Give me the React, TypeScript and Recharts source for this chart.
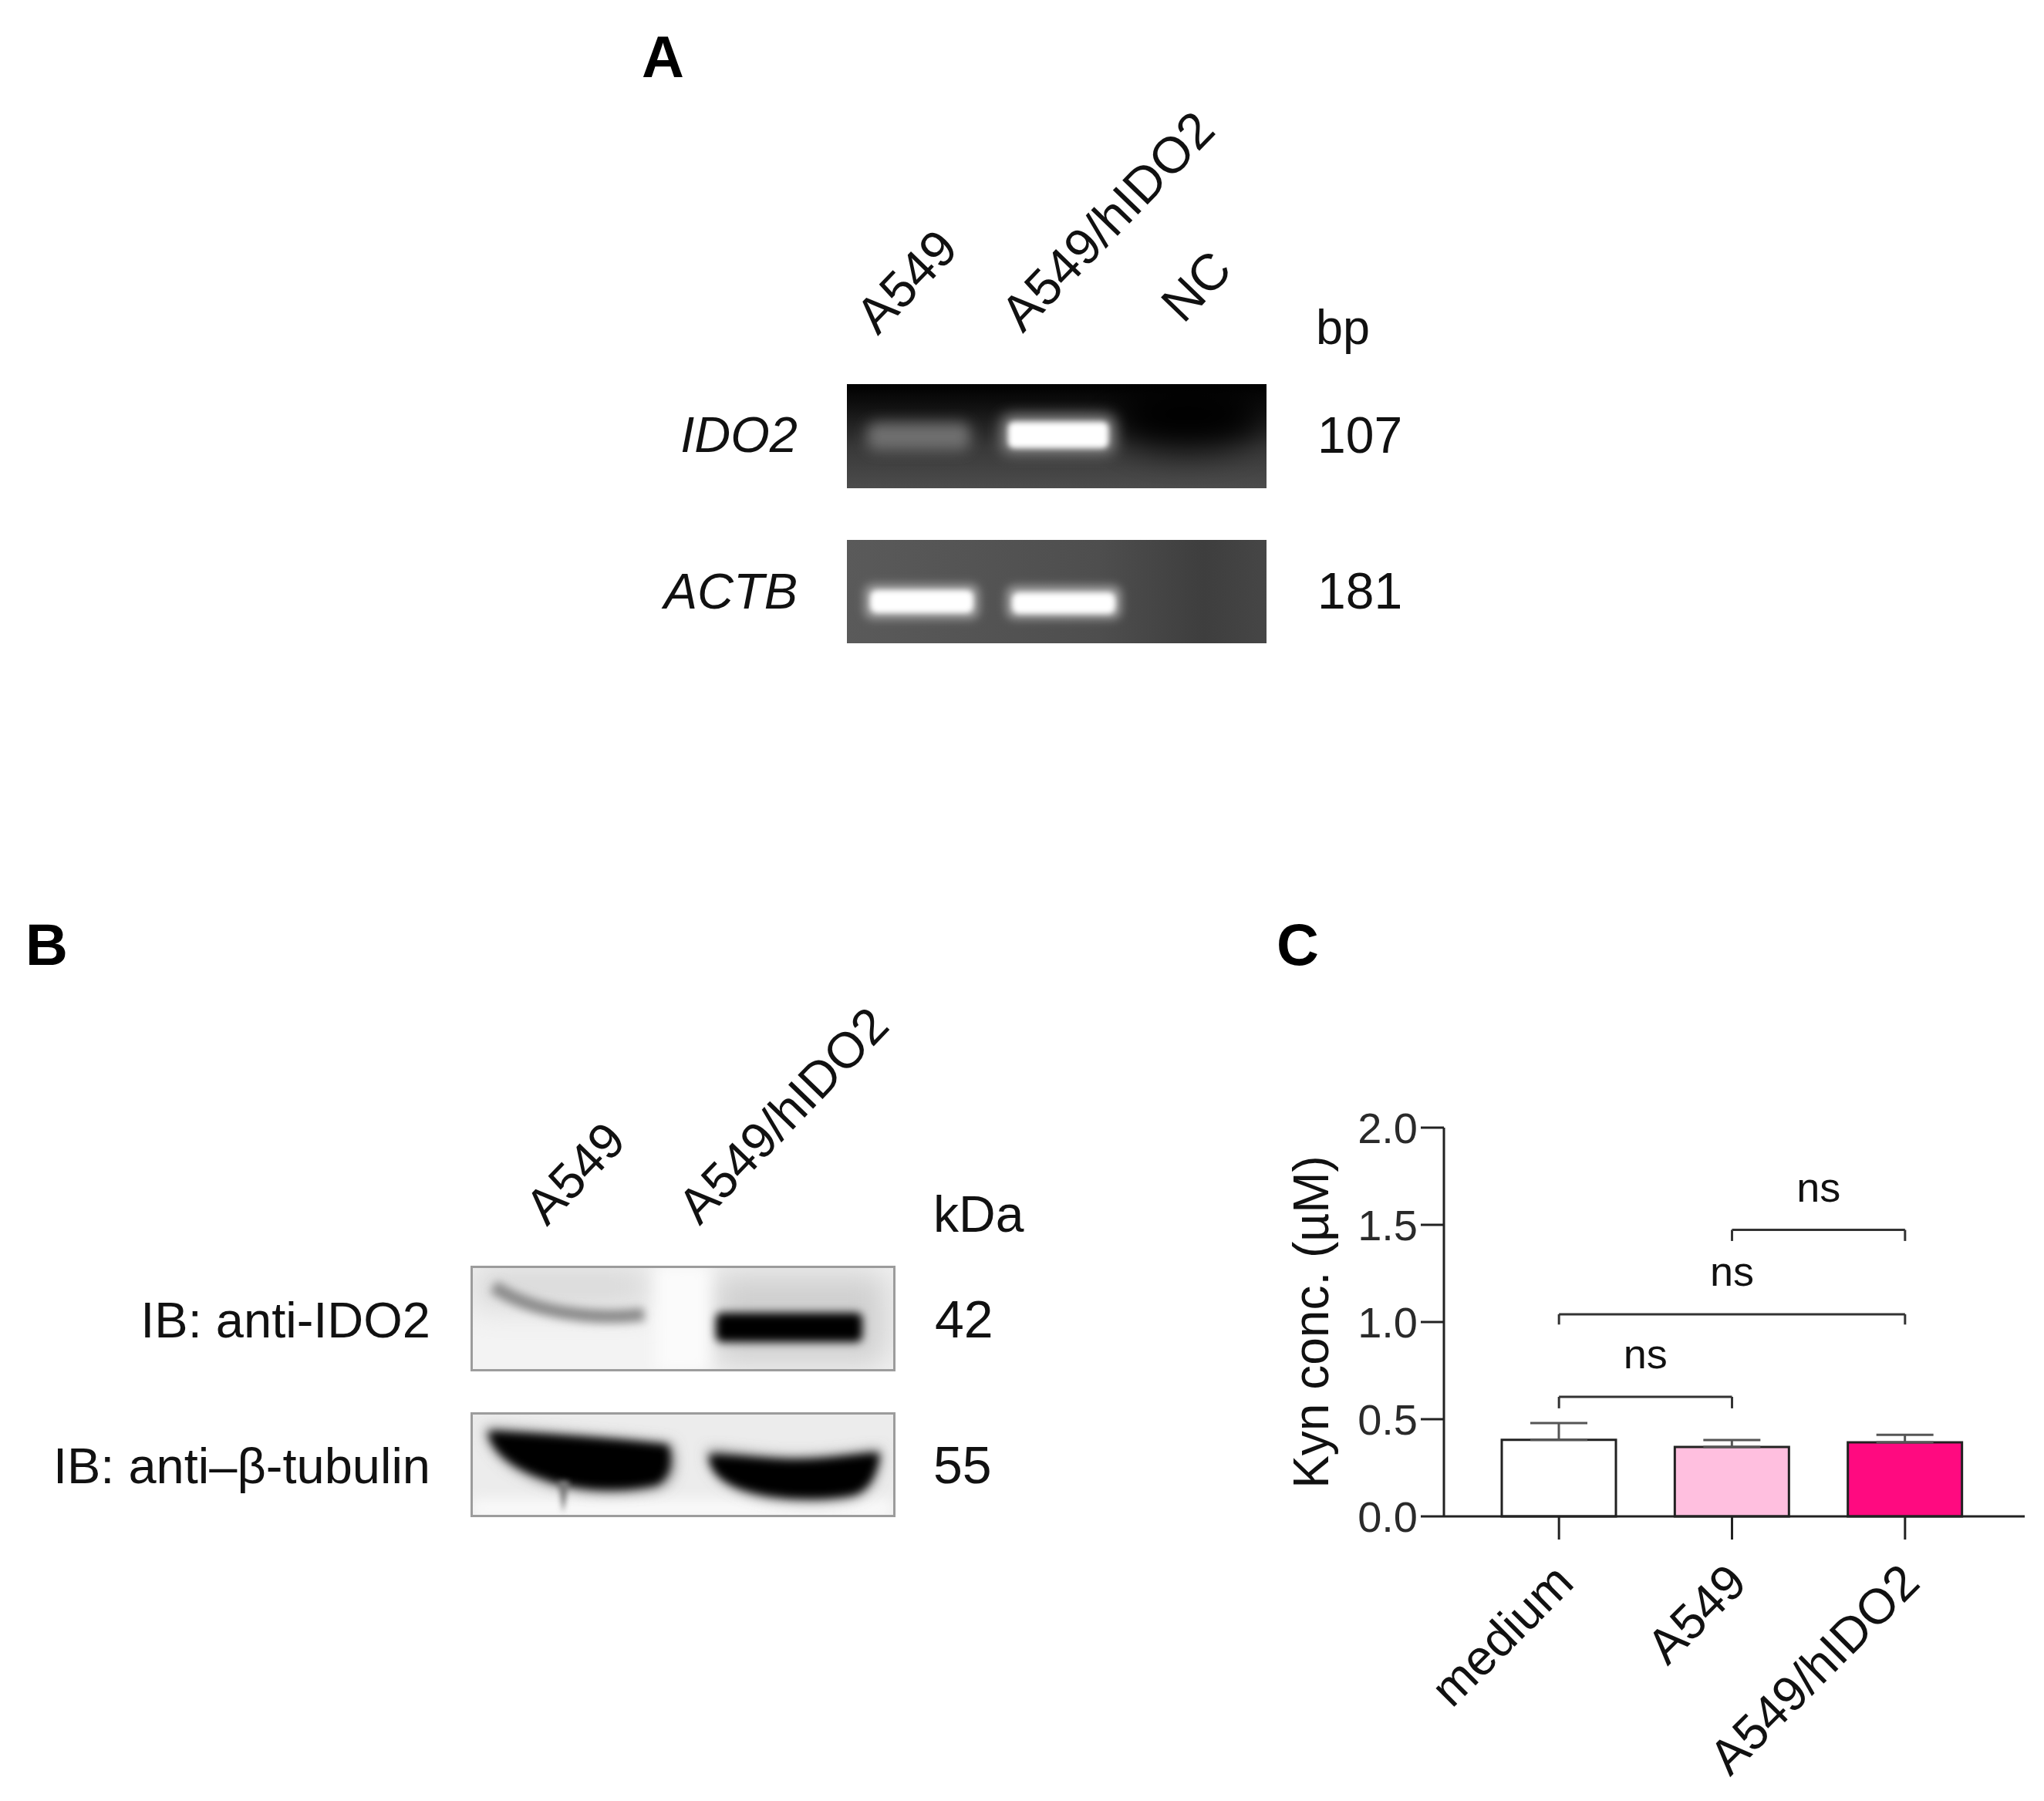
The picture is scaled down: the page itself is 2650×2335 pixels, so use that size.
import { BarChart, Bar, XAxis, YAxis, Cell, ErrorBar, ReferenceLine } from 'recharts'

const FONT = '"Liberation Sans", Arial, sans-serif'
const INK = '#111'

// panel C values
const categories = ['medium', 'A549', 'A549/hIDO2']
const kynMeans = [0.394, 0.357, 0.381]
const kynErrors = [0.086, 0.036, 0.039]
const barFills = ['#ffffff', '#ffbfdf', '#ff0a80']
const yTicks = [0, 0.5, 1, 1.5, 2]

const brackets = [
  { from: 'medium', to: 'A549', level: 0.615, leg: 0.556 },
  { from: 'medium', to: 'A549/hIDO2', level: 1.04, leg: 0.987 },
  { from: 'A549', to: 'A549/hIDO2', level: 1.474, leg: 1.417 }
]

const chartData = categories.map((category, i) => ({
  category,
  kyn: kynMeans[i],
  err: [0, kynErrors[i]]
}))

function Label({ x, y, children, anchor = 'start', size = 66, rotate, italic, bold }: any) {
  return (
    <text
      x={x}
      y={y}
      textAnchor={anchor}
      fontSize={size}
      fontFamily={FONT}
      fontStyle={italic ? 'italic' : undefined}
      fontWeight={bold ? 'bold' : undefined}
      fill={bold ? '#000' : INK}
      transform={rotate ? `rotate(${rotate} ${x} ${y})` : undefined}
    >
      {children}
    </text>
  )
}

// the gel and blot photos, as blurred shapes
function Photos() {
  return (
    <svg width={2650} height={2335} style={{ position: 'absolute', left: 0, top: 0 }}>
      <defs>
        <linearGradient id="gelTop" x1="0" y1="0" x2="0" y2="1">
          <stop offset="0" stopColor="#000" />
          <stop offset="0.22" stopColor="#111" />
          <stop offset="0.6" stopColor="#383838" />
          <stop offset="1" stopColor="#4c4c4c" />
        </linearGradient>
        <linearGradient id="gelBottom" x1="0" y1="0" x2="1" y2="0">
          <stop offset="0" stopColor="#5a5a5a" />
          <stop offset="0.6" stopColor="#4e4e4e" />
          <stop offset="0.85" stopColor="#3e3e3e" />
          <stop offset="1" stopColor="#464646" />
        </linearGradient>
        <filter id="b3" x="-30%" y="-60%" width="160%" height="220%"><feGaussianBlur stdDeviation="3.5" /></filter>
        <filter id="b5" x="-30%" y="-60%" width="160%" height="220%"><feGaussianBlur stdDeviation="6" /></filter>
        <filter id="b8" x="-30%" y="-80%" width="160%" height="260%"><feGaussianBlur stdDeviation="9" /></filter>
        <filter id="b22" x="-50%" y="-100%" width="200%" height="300%"><feGaussianBlur stdDeviation="22" /></filter>
        <clipPath id="clipA1"><rect x={1098} y={498} width={544} height={135} /></clipPath>
        <clipPath id="clipA2"><rect x={1098} y={700} width={544} height={134} /></clipPath>
        <clipPath id="clipB1"><rect x={610} y={1641} width={551} height={137} /></clipPath>
        <clipPath id="clipB2"><rect x={610} y={1831} width={551} height={136} /></clipPath>
      </defs>

      {/* panel A, IDO2 */}
      <g clipPath="url(#clipA1)">
        <rect x={1098} y={498} width={544} height={135} fill="url(#gelTop)" />
        <ellipse cx={1540} cy={540} rx={100} ry={42} fill="#000" filter="url(#b22)" />
        <rect x={1124} y={548} width={134} height={36} rx={12} fill="#707070" filter="url(#b8)" />
        <rect x={1298} y={538} width={148} height={50} rx={12} fill="#8a8a8a" filter="url(#b8)" />
        <rect x={1307} y={547} width={130} height={34} rx={8} fill="#fff" filter="url(#b3)" />
      </g>
      {/* panel A, ACTB */}
      <g clipPath="url(#clipA2)">
        <rect x={1098} y={700} width={544} height={134} fill="url(#gelBottom)" />
        <rect x={1120} y={757} width={150} height={46} rx={12} fill="#9a9a9a" filter="url(#b5)" />
        <rect x={1304} y={759} width={150} height={44} rx={12} fill="#9a9a9a" filter="url(#b5)" />
        <rect x={1128} y={765} width={134} height={30} rx={9} fill="#fff" filter="url(#b3)" />
        <rect x={1312} y={768} width={134} height={28} rx={9} fill="#fff" filter="url(#b3)" />
      </g>

      {/* panel B, anti-IDO2 */}
      <g clipPath="url(#clipB1)">
        <rect x={610} y={1641} width={551} height={137} fill="#f3f3f3" />
        <rect x={612} y={1643} width={230} height={50} fill="#d6d6d6" filter="url(#b22)" />
        <rect x={925} y={1650} width={225} height={120} fill="#cfcfcf" filter="url(#b22)" />
        <rect x={850} y={1641} width={70} height={137} fill="#fbfbfb" filter="url(#b8)" />
        <path d="M640 1668 C 690 1702 770 1712 835 1704" stroke="#8a8a8a" strokeWidth={17} fill="none" filter="url(#b5)" />
        <rect x={928} y={1702} width={190} height={38} rx={8} fill="#050505" filter="url(#b5)" />
      </g>
      <rect x={611.5} y={1642.5} width={548} height={134} fill="none" stroke="#9c9c9c" strokeWidth={3} />

      {/* panel B, anti-tubulin */}
      <g clipPath="url(#clipB2)">
        <rect x={610} y={1831} width={551} height={136} fill="#ececec" />
        <rect x={612} y={1945} width={546} height={22} fill="#fbfbfb" filter="url(#b8)" />
        <path d="M630 1852 C 680 1856 800 1864 870 1872 C 878 1900 874 1920 856 1928 C 810 1938 760 1936 722 1926 C 680 1914 636 1892 630 1852 Z" fill="#777" filter="url(#b8)" />
        <path d="M633 1856 C 680 1858 800 1866 866 1874 C 872 1900 866 1915 852 1924 C 810 1934 760 1932 722 1922 C 680 1910 640 1890 633 1856 Z" fill="#020202" filter="url(#b5)" />
        <path d="M724 1920 L 730 1962 L 738 1920 Z" fill="#777" filter="url(#b3)" />
        <path d="M918 1880 C 960 1884 1000 1890 1030 1890 C 1070 1890 1110 1884 1142 1880 C 1140 1910 1130 1932 1110 1940 C 1080 1948 1020 1948 985 1940 C 945 1930 918 1912 918 1880 Z" fill="#777" filter="url(#b8)" />
        <path d="M920 1886 C 960 1888 1000 1893 1030 1893 C 1070 1893 1110 1886 1140 1884 C 1136 1910 1128 1928 1110 1936 C 1080 1944 1020 1944 985 1936 C 945 1928 920 1912 920 1886 Z" fill="#060606" filter="url(#b5)" />
      </g>
      <rect x={611.5} y={1832.5} width={548} height={133} fill="none" stroke="#9c9c9c" strokeWidth={3} />

      {/* panel letters */}
      <Label x={832} y={100} size={76} bold>A</Label>
      <Label x={33} y={1251} size={76} bold>B</Label>
      <Label x={1655} y={1251} size={76} bold>C</Label>

      {/* panel A text */}
      <Label x={1138} y={436} size={66} rotate={-46}>A549</Label>
      <Label x={1326} y={433} size={66} rotate={-46}>A549/hIDO2</Label>
      <Label x={1534} y={421} size={66} rotate={-46}>NC</Label>
      <Label x={1706} y={446} size={63}>bp</Label>
      <Label x={1034} y={586} anchor="end" size={65} italic>IDO2</Label>
      <Label x={1034} y={789} anchor="end" size={65} italic>ACTB</Label>
      <Label x={1708} y={587} size={66}>107</Label>
      <Label x={1708} y={789} size={66}>181</Label>

      {/* panel B text */}
      <Label x={709} y={1591} size={65} rotate={-46}>A549</Label>
      <Label x={907} y={1590} size={65} rotate={-46}>A549/hIDO2</Label>
      <Label x={1210} y={1597} size={66}>kDa</Label>
      <Label x={558} y={1734} anchor="end" size={65}>IB: anti-IDO2</Label>
      <Label x={558} y={1923} anchor="end" size={65}>IB: anti–β-tubulin</Label>
      <Label x={1212} y={1734} size={68}>42</Label>
      <Label x={1210} y={1923} size={68}>55</Label>
    </svg>
  )
}

export default function App() {
  const line = { stroke: '#222', strokeWidth: 3 }
  return (
    <div style={{ position: 'absolute', left: 0, top: 0, width: 2650, height: 2335, background: '#fff', overflow: 'hidden' }}>
      <Photos />
      <div style={{ position: 'absolute', left: 1600, top: 1400 }}>
        <BarChart
          width={1050}
          height={935}
          data={chartData}
          margin={{ top: 62, right: 25, bottom: 0, left: 0 }}
          barCategoryGap={0}
        >
          <XAxis
            dataKey="category"
            interval={0}
            height={369}
            padding={{ left: 37, right: 43 }}
            tickSize={30}
            axisLine={line}
            tickLine={line}
            angle={-45}
            textAnchor="end"
            tick={{ fontSize: 64, fill: INK, fontFamily: FONT, dx: -10, dy: 25 }}
          />
          <YAxis
            width={272}
            domain={[0, 2]}
            ticks={yTicks}
            tickSize={30}
            tickMargin={4}
            axisLine={line}
            tickLine={line}
            tickFormatter={(v: number) => v.toFixed(1)}
            tick={{ fontSize: 56, fill: '#2a2a2a', fontFamily: FONT }}
            label={{
              value: 'Kyn conc. (µM)',
              angle: -90,
              position: 'insideLeft',
              offset: 99,
              style: { fontSize: 64, fill: INK, fontFamily: FONT, textAnchor: 'middle' }
            }}
          />
          <Bar dataKey="kyn" barSize={148} stroke="#222" strokeWidth={3} isAnimationActive={false}>
            {categories.map((c, i) => (
              <Cell key={c} fill={barFills[i]} />
            ))}
            <ErrorBar dataKey="err" direction="y" width={37} stroke="#555" strokeWidth={3} isAnimationActive={false} />
          </Bar>
          {brackets.map((b) => (
            <ReferenceLine
              key={b.from + b.to}
              segment={[{ x: b.from, y: b.level }, { x: b.to, y: b.level }]}
              stroke="#333"
              strokeWidth={3}
              label={{ value: 'ns', position: 'top', offset: 37, style: { fontSize: 54, fill: INK, fontFamily: FONT } }}
            />
          ))}
          {brackets.flatMap((b) =>
            [b.from, b.to].map((x) => (
              <ReferenceLine
                key={b.from + b.to + x}
                segment={[{ x, y: b.level }, { x, y: b.leg }]}
                stroke="#333"
                strokeWidth={3}
              />
            ))
          )}
        </BarChart>
      </div>
    </div>
  )
}
